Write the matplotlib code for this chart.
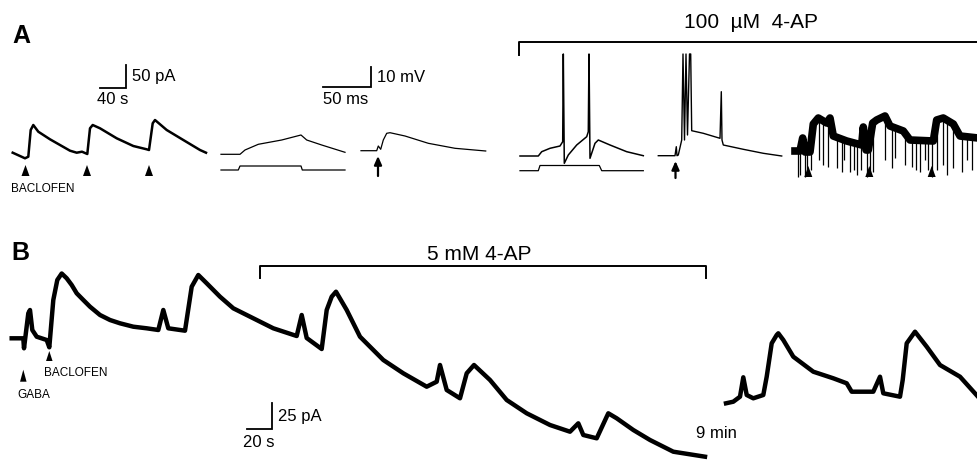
import matplotlib
matplotlib.use("Agg")
import matplotlib.pyplot as plt
import numpy as np

# All traces in its own pixel frame (no axes in the original)
# --- Panel A ---
a_bac_x = [12.7, 25, 28.3, 30.7, 33.3, 38.3, 50, 60, 70, 76.7, 82, 87.3, 90, 92.7, 100, 116.7, 133.3, 146.7, 149,
           152.7, 155, 166.7, 183.3, 200, 206]
a_bac_y = [152.7, 158.3, 156.7, 130, 125, 131.7, 139.3, 145, 150.7, 152.7, 151.7, 154, 128.3, 125, 128.3, 138.3, 146,
           149.3, 150, 123.3, 120, 130, 140, 150, 152.7]
a_bac_marks = [25.5, 87, 149]

a_step_v_x = [221, 240, 245, 258.3, 281.7, 301, 306.7, 321.7, 345]
a_step_v_y = [154.3, 154.3, 150, 144.3, 140, 135, 140, 145, 152.3]
a_step_i_x = [221, 238.3, 240, 301, 302.3, 345]
a_step_i_y = [170, 170, 166, 166, 170, 170]

a_stim_v_x = [361, 376.7, 378.3, 380.7, 383.3, 386.7, 390, 405, 428.3, 455, 485.7]
a_stim_v_y = [150.7, 150.7, 146, 149.3, 140, 133.3, 132.7, 136, 143.3, 148.3, 151]

ap_step_v_x = [520, 538.3, 541.7, 550, 560, 562.7, 563.3, 564.3, 568.3, 576.7, 586.7, 588.3, 589, 590, 595, 598.3,
               610, 626.7, 643.3]
ap_step_v_y = [156, 156, 151.7, 148.3, 146, 141.7, 54, 163.3, 155, 145, 136.7, 131.7, 54, 158.3, 143.3, 140, 145,
               151.7, 155.7]
ap_step_i_x = [520, 538.3, 540, 599.3, 601.7, 643.3]
ap_step_i_y = [170.7, 170.7, 165.5, 165.5, 170.7, 170.7]

ap_stim_v_x = [658.3, 675, 676.3, 677, 678.3, 681.7, 683, 684.5, 686, 687.5, 689.5, 690.7, 691.7, 703.3, 720, 721.3,
               722, 723.3, 743.3, 763.3, 781.7]
ap_stim_v_y = [155.7, 155.7, 146.7, 155.7, 155, 140, 54, 140, 54, 135, 54, 54, 130.7, 133.3, 138.3, 91.7, 140, 145,
               149.3, 153.3, 156]

ap_noisy_x = [795, 800, 802.7, 805, 810, 813.3, 818.3, 826.7, 830, 833.3, 846.7, 861.7, 863.3, 866, 868.3, 872.7,
              876.7, 885, 890, 903.3, 910, 933.3, 936.7, 943.3, 953.3, 960, 978]
ap_noisy_y = [151, 151, 138, 152, 152, 124, 118, 123, 118, 136, 141, 145, 127, 150, 150, 123, 120, 116, 126, 131, 140,
              141, 120, 118, 124, 136, 138]
ap_dips_x = [798.3, 800, 805, 807.3, 811, 819.3, 822.7, 827.7, 836.7, 841.7, 844.3, 850, 854, 856.7, 861, 866.7, 870,
             873.3, 885, 891.7, 895, 905, 911.7, 916, 920, 925, 928.3, 931.7, 936.7, 943.3, 946.7, 953.3, 961.7,
             966.7, 971.7]
ap_dips_y = [177, 175, 177, 176, 170, 160, 165, 167, 168, 172, 160, 172, 170, 175, 170, 177, 176, 172, 160, 168, 158,
             165, 167, 170, 172, 160, 170, 177, 170, 165, 175, 168, 172, 160, 170]
ap_noisy_marks = [808.3, 869.3, 931.7]

# --- Panel B ---
b_ctrl_x = [11.7, 23.3, 24, 28.3, 30, 32.3, 36.7, 46.7, 49.3, 53.3, 57.3, 61.7, 66.7, 71.7, 76.7, 83.3, 90, 100,
            110, 120, 133.3, 146.7, 158.3, 163.3, 168.3, 185, 191.7, 198.3, 206.7, 220, 233.3, 253.3, 273.3, 296.7,
            301.7, 306.7, 321.7, 326.7, 331.7, 336, 346.7, 360, 383.3, 403.3, 426.7, 436.7, 440, 446.7, 460, 466.7,
            474, 490, 506.7, 526.7, 550, 570, 578.3, 583.3, 596.7, 606.7, 608.3, 616.7, 633.3, 650, 673.3, 705]
b_ctrl_y = [338.3, 338.3, 348.3, 313.3, 310, 330, 336.7, 340, 347.3, 300, 280, 273.5, 278.3, 285, 293.3, 300, 306.7,
            315, 320, 323.3, 326.7, 328.3, 330, 310, 328.3, 330.7, 286.7, 275, 283.3, 296.7, 308.3, 318.3, 328.3,
            336, 315, 338, 349, 310, 296.7, 291.7, 310, 336.7, 360, 373.3, 386.7, 381.7, 365, 390, 398.3, 373.3,
            365, 380, 400, 413.3, 425, 431.7, 423.3, 435, 438.3, 416.7, 413.3, 418.3, 430, 440, 451.7, 456.7]
b_late_x = [726, 733.3, 740, 743.3, 746.7, 753.3, 763.3, 766.7, 771.7, 776.7, 778.3, 783.3, 793.3, 813.3, 833.3,
            846.7, 851.7, 873.3, 880, 883.3, 900, 902.7, 906.7, 915, 926.7, 940, 960, 978]
b_late_y = [403.3, 401.7, 396.7, 377.3, 395, 398.3, 395, 376.7, 343.3, 335, 333.3, 340, 356.7, 371.7, 378.3, 383.3,
            391.7, 391.7, 376.7, 393.3, 396.7, 380, 343.3, 331.7, 346.7, 365, 376.7, 396.7]
b_gaba_mark = 23.3
b_bac_mark = 49.3

fam = ["Liberation Sans", "DejaVu Sans"]
fig = plt.figure(figsize=(9.78, 4.63), dpi=100)
ax = fig.add_axes([0, 0, 1, 1])
ax.set_xlim(0, 978)
ax.set_ylim(463, 0)
ax.axis("off")


def tri(x, ybase, h=11, w=8):
    ax.fill([x - w / 2, x + w / 2, x], [ybase, ybase, ybase - h], color="k", lw=0)


def up_arrow(x, ybot, ytop):
    ax.annotate("", xy=(x, ytop), xytext=(x, ybot),
                arrowprops=dict(arrowstyle="-|>,head_length=0.5,head_width=0.22", lw=1.6, color="k",
                                shrinkA=0, shrinkB=0))


def scalebar(x0, x1, y0, y1, vlabel, hlabel, hx, hy):
    ax.plot([x0, x1, x1], [y1, y1, y0], color="k", lw=1.3, solid_joinstyle="miter")
    ax.text(x1 + 6, (y0 + y1) / 2, vlabel, fontsize=12, family=fam, va="center", ha="left")
    ax.text(hx, hy, hlabel, fontsize=12, family=fam, va="center", ha="left")


# Panel A
ax.text(12, 36, "A", fontsize=18, fontweight="bold", family=fam, va="center", ha="left")
ax.plot(a_bac_x, a_bac_y, color="k", lw=1.8)
for m in a_bac_marks:
    tri(m, 176)
ax.text(11, 189, "BACLOFEN", fontsize=8.5, family=fam, va="center", ha="left")
scalebar(100, 125.7, 65, 88.3, "50 pA", "40 s", 96.7, 100)

ax.plot(a_step_v_x, a_step_v_y, color="k", lw=0.9)
ax.plot(a_step_i_x, a_step_i_y, color="k", lw=0.9)
scalebar(322.7, 371, 66.7, 87.3, "10 mV", "50 ms", 323.3, 100)
ax.plot(a_stim_v_x, a_stim_v_y, color="k", lw=0.9)
up_arrow(378, 176, 156)

ax.plot([519.3, 519.3, 978], [55, 42.3, 42.3], color="k", lw=1.4)
ax.text(751, 22, "100  \u00b5M  4-AP", fontsize=15, family=fam, va="center", ha="center")
ax.plot(ap_step_v_x, ap_step_v_y, color="k", lw=1.1)
ax.plot(ap_step_i_x, ap_step_i_y, color="k", lw=0.9)
ax.plot(ap_stim_v_x, ap_stim_v_y, color="k", lw=1.0)
up_arrow(675.5, 178, 161)

dip_top = np.interp(ap_dips_x, ap_noisy_x, ap_noisy_y)
ax.vlines(ap_dips_x, dip_top, ap_dips_y, color="k", lw=0.9)
ax.plot(ap_noisy_x, ap_noisy_y, color="k", lw=5.5, solid_joinstyle="round")
for m in ap_noisy_marks:
    tri(m, 177)

# Panel B
ax.text(11, 253, "B", fontsize=18, fontweight="bold", family=fam, va="center", ha="left")
ax.plot([260, 260, 706, 706], [278, 266, 266, 278], color="k", lw=1.4)
ax.text(479, 254, "5 mM 4-AP", fontsize=15, family=fam, va="center", ha="center")
ax.plot(b_ctrl_x, b_ctrl_y, color="k", lw=3.2, solid_joinstyle="round")
ax.plot(b_late_x, b_late_y, color="k", lw=3.2, solid_joinstyle="round")
tri(b_gaba_mark, 381.7, h=12, w=6.5)
tri(b_bac_mark, 361, h=10, w=6.5)
ax.text(44, 373, "BACLOFEN", fontsize=8.5, family=fam, va="center", ha="left")
ax.text(17, 395, "GABA", fontsize=8.5, family=fam, va="center", ha="left")
scalebar(246.7, 271.7, 403.3, 429, "25 pA", "20 s", 242.7, 442.7)
ax.text(696.5, 433, "9 min", fontsize=12, family=fam, va="center", ha="left")

fig.savefig("out.png", dpi=100)
